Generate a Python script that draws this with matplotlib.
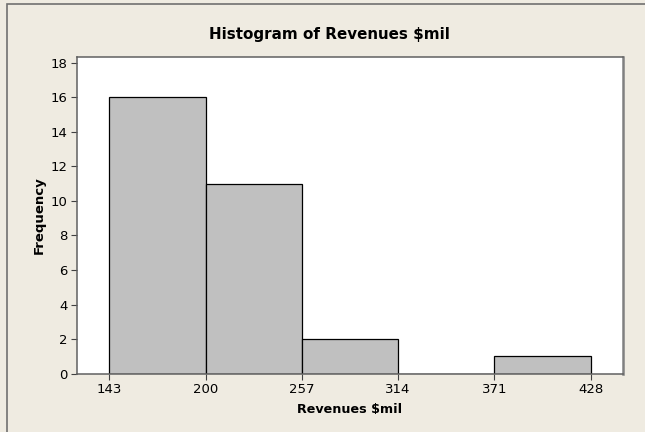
import matplotlib
matplotlib.use("Agg")
import matplotlib.pyplot as plt
from matplotlib.patches import Rectangle

# histogram bins (edges) and counts
bin_edges = [143, 200, 257, 314, 371, 428]
counts = [16, 11, 2, 0, 1]
x_ticks = [143, 200, 257, 314, 371, 428]
y_ticks = [0, 2, 4, 6, 8, 10, 12, 14, 16, 18]

BG = "#efebe1"

fig = plt.figure(figsize=(6.45, 4.32), dpi=100, facecolor=BG)
W, H = 645, 432

# outer frame (left and top edge visible)
fig.patches.append(Rectangle((7 / W, -0.1), 1.2, (H - 4) / H + 0.1,
                             transform=fig.transFigure, fill=False,
                             edgecolor="#707070", linewidth=1.2))

ax = fig.add_axes([77 / W, 1 - 373.7 / H, (622.7 - 77) / W, (373.7 - 56.7) / H])
ax.set_facecolor("white")

widths = [bin_edges[i + 1] - bin_edges[i] for i in range(len(counts))]
ax.bar(bin_edges[:-1], counts, width=widths, align="edge",
       color="#c0c0c0", edgecolor="black", linewidth=0.9)

ax.set_xlim(123.9, 446.9)
ax.set_ylim(0, 18.35)
ax.set_xticks(x_ticks)
ax.set_yticks(y_ticks)
ax.tick_params(labelsize=9.5, length=4, color="#404040", pad=3)

for s in ax.spines.values():
    s.set_color("#606060")
    s.set_linewidth(1.1)
ax.spines["right"].set_color("#808080")
ax.spines["right"].set_linewidth(1.8)

fig.text(329 / W, 1 - 35 / H, "Histogram of Revenues $mil", fontsize=10.9,
         fontweight="bold", ha="center", va="center")
ax.set_xlabel("Revenues $mil", fontsize=9.2, fontweight="bold", labelpad=5)
ax.set_ylabel("Frequency", fontsize=9.5, fontweight="bold", labelpad=3)

fig.savefig("out.png", dpi=100, facecolor=BG)
